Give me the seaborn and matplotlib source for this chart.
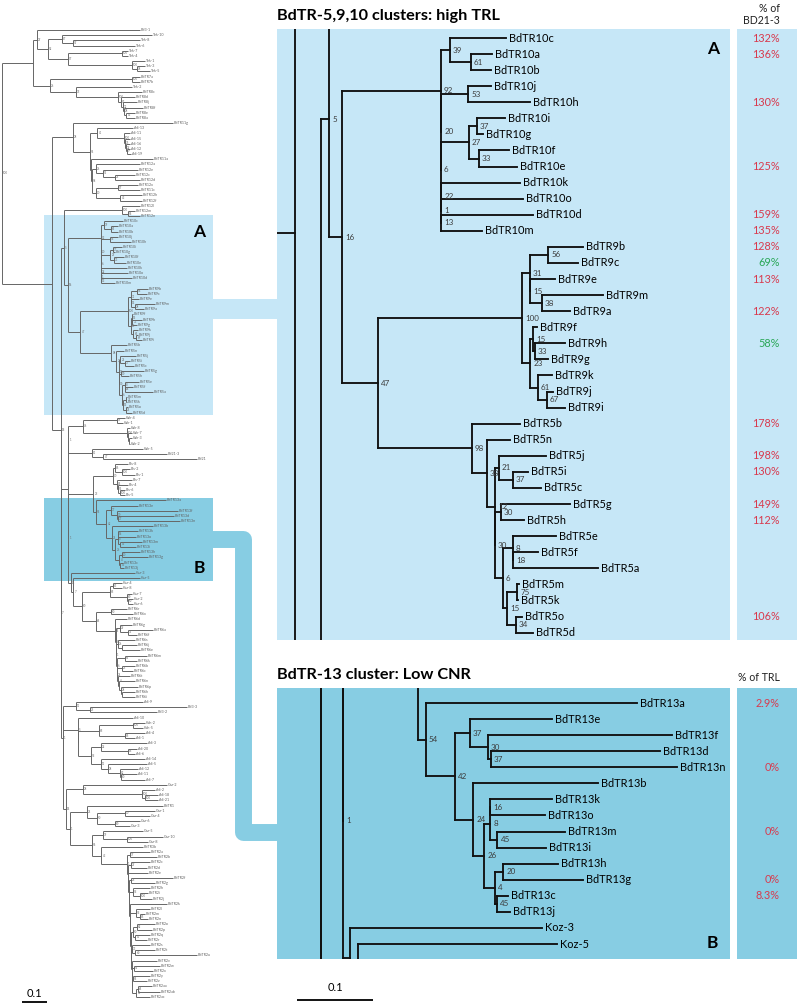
import matplotlib
matplotlib.use("Agg")
import matplotlib.pyplot as plt
import seaborn as sns
from matplotlib.collections import LineCollection
from matplotlib.patches import Rectangle

# ---- tree data: Newick pieces, branch lengths in substitutions/site, bootstrap as node label
top_clade = "((Bd3-1:0.4069,((Tek-10:0.3555,(Tek-8:0.2647,Tek-6:0.2449)57:0.0435)87:0.0553,((Tek-7:0.0237,Tek-4:0.0237)100:0.2133,(Tek-1:0.0514,(Tek-3:0.0316,Tek-5:0.0514)78:0.0198)100:0.2528)97:0.0790)52:0.0435)27:0.0158,((BdTR7a:0.0316,BdTR7b:0.0316)100:0.3239,(Tek-2:0.2212,(BdTR8c:0.0948,(BdTR8d:0.0553,(BdTR8j:0.0553,(BdTR8f:0.0751,(BdTR8e:0.0356,BdTR8a:0.0356)43:0.0079)38:0.0040)32:0.0079)82:0.0119)100:0.1659)73:0.1027)26:0.0672)"
c38_clade = "(BdTR11g:0.3950,((Adi-13:0.1422,(Adi-11:0.0237,(Adi-15:0.0198,(Adi-16:0.0158,(Adi-12:0.0119,Adi-19:0.0158)9:0.0040)22:0.0040)36:0.0040)100:0.1067)41:0.0277,(BdTR11a:0.2449,((BdTR12a:0.1738,(BdTR12e:0.1383,(BdTR12c:0.0790,BdTR12d:0.0988)34:0.0474)51:0.0277)26:0.0158,((BdTR12x:0.0790,BdTR11c:0.0869)97:0.0869,(BdTR12h:0.0869,BdTR12f:0.0869)43:0.0948)20:0.0158)58:0.0040):0.0040)54:0.0672)38"
bdtr12_clade = "(BdTR12l:0.0711,(BdTR12m:0.0277,BdTR12n:0.0474)56:0.0237)100"
clade10 = "((BdTR10c:0.0737,(BdTR10a:0.0276,BdTR10b:0.0263)61:0.0276)39:0.0118,((BdTR10j:0.0303,BdTR10h:0.0816)53:0.0355,(((BdTR10i:0.0368,BdTR10g:0.0079)37:0.0105,(BdTR10f:0.0395,BdTR10e:0.0500)33:0.0132)27:0.0368,(BdTR10k:0.1039,(BdTR10o:0.1079,(BdTR10d:0.1211,BdTR10m:0.0539)13:0.0)1:0.0)22:0.0)6:0.0)20:0.0)92"
clade9 = "(((BdTR9b:0.0461,BdTR9c:0.0395)56:0.0237,(BdTR9e:0.0329,(BdTR9m:0.0803,BdTR9a:0.0368)38:0.0158)15:0.0)31:0.0105,((BdTR9f:0.0053,(BdTR9h:0.0395,BdTR9g:0.0171)33:0.0026)15:0.0039,(BdTR9k:0.0184,(BdTR9j:0.0079,BdTR9i:0.0237)67:0.0118)61:0.0105)23:0.0105)100"
clade5 = "(BdTR5b:0.0632,(BdTR5n:0.0303,((BdTR5j:0.0618,(BdTR5i:0.0197,BdTR5c:0.0368)37:0.0184)21:0.0053,((BdTR5g:0.0908,BdTR5h:0.0303)30:0.0079,((BdTR5e:0.0566,(BdTR5f:0.0329,BdTR5a:0.1118)18:0.0)8:0.0132,((BdTR5m:0.0026,BdTR5k:0.0013)75:0.0132,(BdTR5o:0.0079,BdTR5d:0.0224)34:0.0118)15:0.0053)6:0.0105)30:0.0)12:0.0105)38:0.0197)98"
clade13 = "(BdTR13a:0.2776,((BdTR13e:0.1079,(BdTR13f:0.2421,(BdTR13d:0.2224,BdTR13n:0.2447)37:0.0039)30:0.0237)37:0.0197,(BdTR13b:0.1645,(((BdTR13k:0.0803,BdTR13o:0.0711)16:0.0,(BdTR13m:0.0882,BdTR13i:0.0632)45:0.0092)8:0.0084,((BdTR13h:0.0724,BdTR13g:0.1053)20:0.0105,(BdTR13c:0.0145,BdTR13j:0.0171)45:0.0026)4:0.0145)26:0.0145)24:0.0237)42:0.0382)54"
kah_clade = "((Kah-4:0.0316,Kah-1:0.0237)99:0.1343,(Kah-8:0.0119,(Kah-7:0.0158,(Kah-3:0.0119,Kah-2:0.0040):0.0040):0.0040)100:0.1738)76"
bd21_clade = "(Kah-5:0.2015,(Bd21-3:0.2528,Bd21:0.3713)47:0.0435)81"
bis_clade = "((Bis-8:0.0514,(Bis-2:0.0316,Bis-1:0.0514)100:0.0277)86:0.0079,(Bis-7:0.0593,(Bis-4:0.0395,(Bis-6:0.0198,Bis-5:0.0198)100:0.0079)55:0.0040)94:0.0158)70"
koz_clade = "((Koz-4:0.0355,Koz-8:0.0355)83:0.0118,(Koz-7:0.0198,(Koz-2:0.0198,Koz-6:0.0198)50:0.0040)80:0.0672)63"
bdtr6_clade = "((BdTR6r:0.0632,BdTR6x:0.0869)50:0.0593,(BdTR6d:0.0474,((BdTR6g:0.0474,(BdTR6a:0.0988,BdTR6f:0.0356)71:0.0316)29:0.0158,((BdTR6s:0.0672,(BdTR6j:0.0593,BdTR6e:0.0711):0.0158)26:0.0079,((BdTR6m:0.0869,BdTR6k:0.0474)61:0.0316,((BdTR6b:0.0514,BdTR6c:0.0435)23:0.0198,(BdTR6t:0.0474,(BdTR6n:0.0632,(BdTR6p:0.0672,(BdTR6h:0.0514,BdTR6i:0.0514):0.0040)28:0.0079):0.0040)4:0.0040)24:0.0)6:0.0040)1:0.0)96:0.0040)84:0.0751)64"
adi9_clade = "(Adi-9:0.2645,(Bd3-3:0.3829,Bd3-2:0.2645)25:0.0553)11"
adi_clade = "(Adi-10:0.2171,(((Koh-2:0.0474,Koh-5:0.0395)100:0.1342,(Adi-4:0.0790,Adi-1:0.0395)96:0.1026)63:0.0829,((Adi-3:0.1816,(Adi-20:0.0355,Adi-6:0.0276)96:0.1066)22:0.0395,(Adi-14:0.1737,(Adi-5:0.1540,(Adi-12:0.0711,(Adi-11:0.0632,Adi-7:0.0948)60:0.0039)82:0.0474)28:0.0276)11:0.0395)53:0.0513):0.0)5"
gaz1_clade = "(Gaz-2:0.3316,(Adi-2:0.0513,(Adi-18:0.0513,Adi-21:0.0513)100:0.0118)100:0.2329)28"
gaz2_clade = "(BdTR1:0.3000,((Gaz-1:0.1184,Gaz-4:0.0987)70:0.1105,(Gaz-6:0.0987,Gaz-3:0.0592)90:0.0711)50:0.0395)24"
gaz3_clade = "(Gaz-5:0.1579,(Gaz-10:0.1421,Gaz-8:0.0829)100:0.0947)39"
bdtr2_groups = [
    "(BdTR2a:0.0790,BdTR2b:0.1066)77:0.0118",
    "(BdTR2c:0.0750,BdTR2d:0.0632)27:0.0138",
    "BdTR2e:0.0790",
    "(BdTR2f:0.1658,BdTR2g:0.0948)26:0.0099",
    "(BdTR2h:0.0671,(BdTR2i:0.0316,BdTR2j:0.0474)100:0.0276)53:0.0158",
    "BdTR2k:0.1480",
    "(BdTR2l:0.0553,(BdTR2m:0.0197,BdTR2n:0.0316)86:0.0158)53:0.0237",
    "((BdTR2o:0.0711,BdTR2p:0.0592)62:0.0158,(BdTR2q:0.0592,BdTR2r:0.0474)41:0.0079)50:0.0099",
    "(BdTR2s:0.0711,(BdTR2t:0.0790,BdTR2u:0.2448)40:0.0118)33:0.0039",
    "(BdTR2v:0.1007,((BdTR2w:0.1026,BdTR2x:0.0750)51:0.0099,((BdTR2y:0.0671,BdTR2z:0.0553)54:0.0059,((BdTR2aa:0.0553,BdTR2ab:0.0869)64:0.0079,BdTR2ac:0.0553)41:0.0177):0.0):0.0):0.0020",
]
bdtr2_step = "0.0020"

# expression relative to BD21-3 (panel A) and to TRL (panel B)
pct_a_names = ["BdTR10c", "BdTR10a", "BdTR10h", "BdTR10e", "BdTR10d", "BdTR10m", "BdTR9b", "BdTR9c",
               "BdTR9e", "BdTR9a", "BdTR9h", "BdTR5b", "BdTR5j", "BdTR5i", "BdTR5g", "BdTR5h", "BdTR5o"]
pct_a_values = [132, 136, 130, 125, 159, 135, 128, 69, 113, 122, 58, 178, 198, 130, 149, 112, 106]
pct_b_names = ["BdTR13a", "BdTR13n", "BdTR13m", "BdTR13g", "BdTR13c"]
pct_b_values = [2.9, 0, 0, 0, 8.3]


# ---- assemble the whole tree
inner = bdtr2_groups[-1]
for grp in reversed(bdtr2_groups[1:-1]):
    inner = "(" + grp + "," + inner + "):" + bdtr2_step
bdtr2_clade = "(" + bdtr2_groups[0] + "," + inner + ")1"

e5 = "(" + gaz2_clade + ":0.0671,(" + gaz3_clade + ":0.0434,(BdTR3b:0.1658," + bdtr2_clade + ":0.1026)43:0.0355)56:0.0869)1"
e4 = "(" + gaz1_clade + ":0.0671," + e5 + ":0.0158)14"
e3 = "(" + adi_clade + ":0.0592," + e4 + ":0.0118)"
e2 = "(" + adi9_clade + ":0.0513," + e3 + ":0.0)1"
nk1 = "(Koz-3:0.2526,(Koz-5:0.2618,(" + koz_clade + ":0.1105," + bdtr6_clade + ":0.0553)60:0.0338)7:0.0105)14"
f_node = "((" + bis_clade + ":0.0772," + clade13 + ":0.0105)23:0.0987," + nk1 + ":0.0092)1"
v_node = "(" + kah_clade + ":0.0575," + bd21_clade + ":0.0930)1"
g_node = "(" + v_node + ":0.0," + f_node + ":0.0)"
e_node = "(" + g_node + ":0.0296," + e2 + ":0.0083)7"
n5 = "(" + bdtr12_clade + ":0.2299,(" + clade10 + ":0.1303,(" + clade9 + ":0.1895," + clade5 + ":0.1237)47:0.0474)16:0.0171)5"
full_tree = "(" + top_clade + ":0.1224,(" + c38_clade + ":0.0812,(" + n5 + ":0.0112," + e_node + ":0.0)18:0.0336):0.1991)100;"


def parse_newick(text):
    pos = 0

    def node():
        nonlocal pos
        n = {"children": [], "name": "", "length": 0.0}
        if text[pos] == "(":
            pos += 1
            while True:
                n["children"].append(node())
                if text[pos] == ",":
                    pos += 1
                    continue
                pos += 1  # ')'
                break
        start = pos
        while text[pos] not in ":,);":
            pos += 1
        n["name"] = text[start:pos]
        if text[pos] == ":":
            pos += 1
            start = pos
            while text[pos] not in ",);":
                pos += 1
            n["length"] = float(text[start:pos])
        return n

    return node()


def layout(n, depth, leaves, nodes):
    n["x"] = depth + n["length"]
    for c in n["children"]:
        layout(c, n["x"], leaves, nodes)
    if n["children"]:
        n["y"] = (n["children"][0]["y"] + n["children"][-1]["y"]) / 2
    else:
        n["y"] = len(leaves)
        leaves.append(n)
    nodes.append(n)


root = parse_newick(full_tree)
leaves, nodes = [], []
layout(root, 0.0, leaves, nodes)
by_name = {lf["name"]: lf for lf in leaves}

segs = []
for n in nodes:
    if n["children"]:
        segs.append([(n["x"], n["children"][0]["y"]), (n["x"], n["children"][-1]["y"])])
        for c in n["children"]:
            segs.append([(n["x"], c["y"]), (c["x"], c["y"])])

# ---- figure
sns.set_theme(style="white")
plt.rcParams["font.family"] = ["Lato", "DejaVu Sans"]

W, H = 797, 1005
fig = plt.figure(figsize=(W / 100, H / 100), dpi=100)


def px_axes(x0, y0, x1, y1):
    return fig.add_axes([x0 / W, 1 - y1 / H, (x1 - x0) / W, (y1 - y0) / H])


col_a = "#c6e7f7"
col_b = "#87cde3"
red = "#d83a4e"
green = "#2aa757"

bg = px_axes(0, 0, W, H)
bg.set_xlim(0, W)
bg.set_ylim(H, 0)
bg.axis("off")

# left overview mapping
LX0, LSX, LY0, LSY = 2.0, 253.3, 30.0, 5.17
# right panel mapping
RX0, RSX, RSY = 143.7, 760.0, 16.07
ia = by_name["BdTR10c"]["y"]
ib = by_name["BdTR13a"]["y"]
A_Y0, B_Y0 = 38.0, 703.0

ly = lambda i: LY0 + i * LSY
a_last = by_name["BdTR5d"]["y"]
b_last = by_name["Koz-5"]["y"]

# panels, boxes and connectors
bg.add_patch(Rectangle((277, 29), 453, 611, color=col_a, lw=0))
bg.add_patch(Rectangle((737, 29), 60, 611, color=col_a, lw=0))
bg.add_patch(Rectangle((277, 688), 453, 271, color=col_b, lw=0))
bg.add_patch(Rectangle((737, 688), 60, 271, color=col_b, lw=0))
bg.add_patch(Rectangle((44, ly(ia) - 6), 169, ly(a_last) - ly(ia) + 8, color=col_a, lw=0))
bg.add_patch(Rectangle((44, ly(ib) - 2.5), 169, ly(b_last) - ly(ib) + 5.5, color=col_b, lw=0))
bg.add_patch(Rectangle((212, 299), 66, 20, color=col_a, lw=0))
bg.plot([212, 243.5, 243.5, 278], [538.5, 538.5, 831.5, 831.5], color=col_b, lw=12.2,
        solid_joinstyle="round", solid_capstyle="butt")

bg.text(199, 232, "A", fontsize=12.5, fontweight="bold", ha="center", va="center", color="black")
bg.text(199, 568, "B", fontsize=12.5, fontweight="bold", ha="center", va="center", color="black")
bg.text(713, 49, "A", fontsize=12.5, fontweight="bold", ha="center", va="center", color="black")
bg.text(712, 943, "B", fontsize=12.5, fontweight="bold", ha="center", va="center", color="black")
bg.text(277, 16, "BdTR-5,9,10 clusters: high TRL", fontsize=11.7, fontweight="bold", va="center", color="black")
bg.text(277, 675, "BdTR-13 cluster: Low CNR", fontsize=11.7, fontweight="bold", va="center", color="black")
bg.text(780, 8, "% of", fontsize=7.6, ha="right", va="center", color="#222222")
bg.text(780, 20, "BD21-3", fontsize=7.6, ha="right", va="center", color="#222222")
bg.text(780, 677, "% of TRL", fontsize=7.6, ha="right", va="center", color="#222222")

# left overview tree
left = px_axes(0, 0, 277, H)
left.set_xlim((0 - LX0) / LSX, (277 - LX0) / LSX)
left.set_ylim((H - LY0) / LSY, (0 - LY0) / LSY)
left.axis("off")
left.add_collection(LineCollection(segs, colors="#666666", linewidths=0.7))
for lf in leaves:
    left.text(lf["x"] + 0.6 / LSX, lf["y"], lf["name"], fontsize=2.6, color="#606060", va="center")
for n in nodes:
    if n["children"] and n["name"]:
        left.text(n["x"] + 1.0 / LSX, n["y"], n["name"], fontsize=2.1, color="#707070", va="center")
sx0 = (22 - LX0) / LSX
left.plot([sx0, sx0 + 0.1], [(1002 - LY0) / LSY] * 2, color="black", lw=1.3, solid_capstyle="butt")
left.text(sx0 + 0.05, (993 - LY0) / LSY, "0.1", fontsize=8, ha="center", va="center", color="black")


def detail_panel(y0_px, y1_px, i0, y_ref, names, values):
    ax = px_axes(277, y0_px, 730, y1_px)
    ax.set_xlim((277 - RX0) / RSX, (730 - RX0) / RSX)
    lo = i0 + (y0_px - y_ref) / RSY
    hi = i0 + (y1_px - y_ref) / RSY
    ax.set_ylim(hi, lo)
    ax.axis("off")
    ax.add_collection(LineCollection(segs, colors="#111111", linewidths=1.35, capstyle="projecting"))
    for lf in leaves:
        if lo + 0.3 < lf["y"] < hi - 0.3:
            ax.text(lf["x"] + 3 / RSX, lf["y"], lf["name"], fontsize=7.9, va="center", color="black", clip_on=True)
    for n in nodes:
        if n["children"] and n["name"] and lo + 0.3 < n["y"] < hi - 0.3:
            ax.text(n["x"] + 3 / RSX, n["y"], n["name"], fontsize=5.8, va="center", color="#3c3c3c", clip_on=True)
    for nm, v in zip(names, values):
        ax.text((780 - RX0) / RSX, by_name[nm]["y"], f"{v:g}%", fontsize=7.8, ha="right", va="center",
                color=green if 30 < v < 100 else red, clip_on=False)
    return ax


pa = detail_panel(29, 640, ia, A_Y0, pct_a_names, pct_a_values)
pb = detail_panel(688, 959, ib, B_Y0, pct_b_names, pct_b_values)

# scale bar of the detail panels
bx0 = (297 - RX0) / RSX
pb.plot([bx0, bx0 + 0.1], [ib + (1000 - B_Y0) / RSY] * 2, color="black", lw=1.3,
        solid_capstyle="butt", clip_on=False)
pb.text(bx0 + 0.05, ib + (988 - B_Y0) / RSY, "0.1", fontsize=8, ha="center", va="center",
        color="black", clip_on=False)

fig.savefig("out.png", dpi=100)
